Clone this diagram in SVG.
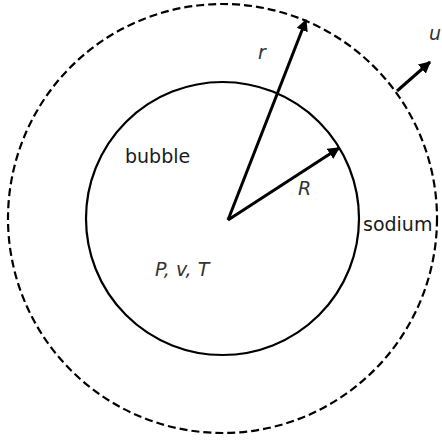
<svg xmlns="http://www.w3.org/2000/svg" width="442" height="441" viewBox="0 0 442 441">
<style>
.bg{fill:#fff}
.inner{fill:none;stroke:#000;stroke-width:2.2}
.outer{fill:none;stroke:#000;stroke-width:2.2;stroke-dasharray:8 4}
.arr{stroke:#000;stroke-width:3;fill:none}
.t{font-family:"DejaVu Sans",sans-serif;font-size:19px;fill:#1a1a1a}
.i{font-style:italic;fill:#333}
</style>
<defs>
<marker id="ah" viewBox="0 0 10 10" refX="9" refY="5" markerWidth="4" markerHeight="4" orient="auto" markerUnits="strokeWidth">
<path d="M0,0 L10,5 L0,10 z" fill="#000"/>
</marker>
</defs>
<rect class="bg" x="0" y="0" width="442" height="441"/>
<g id="outer-region">
<circle class="outer" cx="222.5" cy="218.5" r="214.5"/>
</g>
<g id="bubble-node">
<circle class="inner" cx="222.5" cy="218.5" r="136.5"/>
</g>
<g id="connectors">
<line class="arr" x1="228" y1="220" x2="306" y2="20" marker-end="url(#ah)"/>
<line class="arr" x1="228" y1="220" x2="339" y2="148" marker-end="url(#ah)"/>
<line class="arr" x1="397" y1="91" x2="430" y2="62" marker-end="url(#ah)"/>
</g>
<g id="labels">
<text class="t" x="125" y="163">bubble</text>
<text class="t" x="363" y="231">sodium</text>
<text class="t i" x="155" y="276">P, v, T</text>
<text class="t i" x="298" y="195" font-size="20">R</text>
<text class="t i" x="258" y="59" font-size="21">r</text>
<text class="t i" x="429" y="40" font-size="21">u</text>
</g>
</svg>
